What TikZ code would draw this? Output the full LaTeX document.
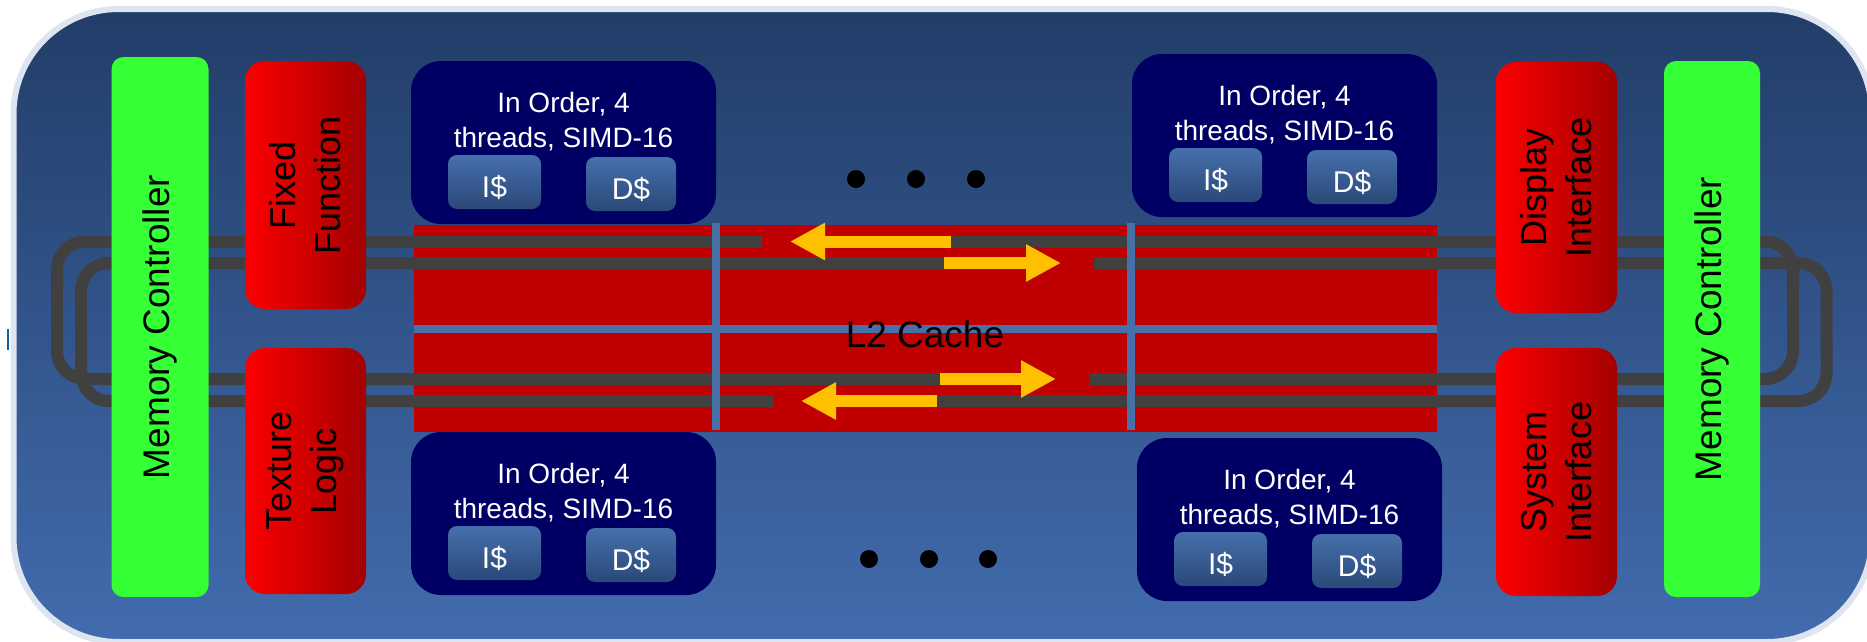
\documentclass[tikz,border=0pt]{standalone}
\usepackage{fontspec}
\setmainfont{Liberation Sans}
\usetikzlibrary{arrows.meta}
\definecolor{bgtop}{RGB}{34,61,104}
\definecolor{bgbot}{RGB}{66,108,174}
\definecolor{rim}{RGB}{222,229,241}
\definecolor{mcgreen}{RGB}{53,255,53}
\definecolor{ffred}{RGB}{252,0,0}
\definecolor{ffdark}{RGB}{163,0,0}
\definecolor{corenavy}{RGB}{0,0,100}
\definecolor{cachetop}{RGB}{70,112,172}
\definecolor{cachebot}{RGB}{42,72,120}
\definecolor{l2red}{RGB}{192,0,0}
\definecolor{gridblue}{RGB}{72,112,168}
\definecolor{busgray}{RGB}{64,64,64}
\definecolor{amber}{RGB}{255,192,0}
\definecolor{markblue}{RGB}{16,96,160}
\begin{document}
\begin{tikzpicture}[x=1pt,y=-1pt,
	bus/.style={draw=busgray,line width=12pt,rounded corners=28pt},
	gridline/.style={draw=gridblue,line width=8pt},
	flow/.style={draw=amber,line width=12pt,-{Triangle[length=35pt,width=35pt]}},
	memctl/.style={fill=mcgreen,rounded corners=12pt,inner sep=0pt},
	sidebox/.style={left color=ffred,right color=ffdark,rounded corners=20pt,inner sep=0pt,minimum width=121pt},
	sidetext/.style={rotate=90,align=center,font=\fontsize{36}{45}\selectfont},
	core/.style={fill=corenavy,rounded corners=30pt,inner sep=0pt,minimum width=305pt,minimum height=163pt},
	coretext/.style={white,align=center,font=\fontsize{28}{35}\selectfont},
	cache/.style={top color=cachetop,bottom color=cachebot,rounded corners=9pt,inner sep=0pt,minimum height=54pt},
	cachetext/.style={white,font=\fontsize{30}{36}\selectfont}]
	\useasboundingbox (0,0) rectangle (1867,641);
	\draw[draw=rim,line width=6pt,top color=bgtop,bottom color=bgbot,rounded corners=105pt] (13.5,9) rectangle (1872,642);
	\fill[markblue] (6.5,329) rectangle (9,350);
	\fill[l2red] (414,225) rectangle (1437,432);
	\draw[bus] (762,241.5) -| (57,379) -- (940,379);
	\draw[bus] (944,263) -| (81,401) -- (773.5,401);
	\draw[bus] (951,241.5) -| (1793,379) -- (1089.5,379);
	\draw[bus] (1094,263) -| (1826.5,401) -- (937,401);
	\draw[gridline] (414,328.5) -- (1437,328.5);
	\draw[gridline] (716,223) -- (716,430) (1131,223) -- (1131,430);
	\draw[flow] (951,241.5) -- (790,241.5);
	\draw[flow] (944,263) -- (1061,263);
	\draw[flow] (940,379) -- (1056,379);
	\draw[flow] (937,401) -- (801,401);
	\node[font=\fontsize{37}{44}\selectfont] (l2) at (925,334) {L2 Cache};
	\node[memctl,minimum width=97pt,minimum height=540pt] (mcleft) at (160,327) {};
	\node[memctl,minimum width=96pt,minimum height=536pt] (mcright) at (1712,329) {};
	\node[rotate=90,font=\fontsize{37}{44}\selectfont] at (mcleft) {Memory Controller};
	\node[rotate=90,font=\fontsize{37}{44}\selectfont] at (mcright) {Memory Controller};
	\node[sidebox,minimum height=248pt] (fixfn) at (305.5,185) {};
	\node[sidebox,minimum height=246pt] (texlog) at (305.5,471) {};
	\node[sidebox,minimum height=251pt] (dispif) at (1556.5,187.5) {};
	\node[sidebox,minimum height=248pt] (sysif) at (1556.5,472) {};
	\node[sidetext] at (fixfn) {Fixed\\Function};
	\node[sidetext] at (texlog) {Texture\\Logic};
	\node[sidetext] at (dispif) {Display\\Interface};
	\node[sidetext] at (sysif) {System\\Interface};
	\foreach \n/\x/\y in {a/411/61,b/1132/54,c/411/432,d/1137/438}{
		\begin{scope}[shift={(\x,\y)}]
			\node[core] (core\n) at (152.5,81.5) {};
			\node[coretext] at (152.5,61) {In Order, 4\\threads, SIMD-16};
			\node[cache,minimum width=93pt] (icache\n) at (83.5,121) {};
			\node[cache,minimum width=90pt] (dcache\n) at (220,123) {};
			\node[cachetext] at ([yshift=-5pt]icache\n) {I\$};
			\node[cachetext] at ([yshift=-5pt]dcache\n) {D\$};
		\end{scope}
	}
	\foreach \x in {856,916,976} \fill (\x,179) circle (9);
	\foreach \x in {869,929,988} \fill (\x,559) circle (9);
\end{tikzpicture}
\end{document}
